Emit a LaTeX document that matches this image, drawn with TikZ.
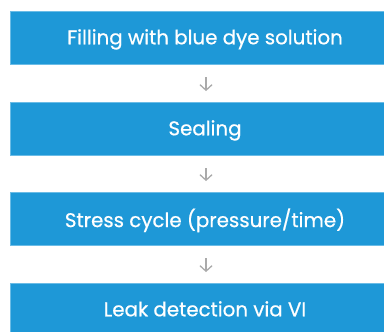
\documentclass[tikz,border=0pt]{standalone}
\usepackage{fontspec}
\newfontfamily\boxfont{Poppins}[FakeBold=0.6]
\usetikzlibrary{arrows.meta}
\definecolor{boxblue}{HTML}{1E98D7}
\definecolor{edgeblue}{HTML}{6BBCE6}
\definecolor{arrgray}{HTML}{AAAAAA}
\begin{document}
\begin{tikzpicture}[x=1pt,y=-1pt,
  stepbox/.style={fill=boxblue, draw=edgeblue, line width=0.8pt, minimum width=390pt, minimum height=53pt, inner sep=0pt, text=white, font=\boxfont\fontsize{19.8}{22}\selectfont, text depth=1.5pt},
  conn/.style={draw=arrgray, line width=1.3pt, -{Straight Barb[length=5.5pt,width=12pt]}, shorten <=13pt, shorten >=10.5pt}]
\useasboundingbox (0,0) rectangle (384,332);
\node[stepbox] (a) at (205,37.5) {Filling with blue dye solution};
\node[stepbox] (b) at (205,128.5) {Sealing};
\node[stepbox] (c) at (205,218.5) {Stress cycle (pressure/time)};
\node[stepbox] (d) at (205,309.5) {Leak detection via VI};
\draw[conn] (a.south -| 206,0) -- (b.north -| 206,0);
\draw[conn] (b.south -| 206,0) -- (c.north -| 206,0);
\draw[conn] (c.south -| 206,0) -- (d.north -| 206,0);
\end{tikzpicture}
\end{document}
